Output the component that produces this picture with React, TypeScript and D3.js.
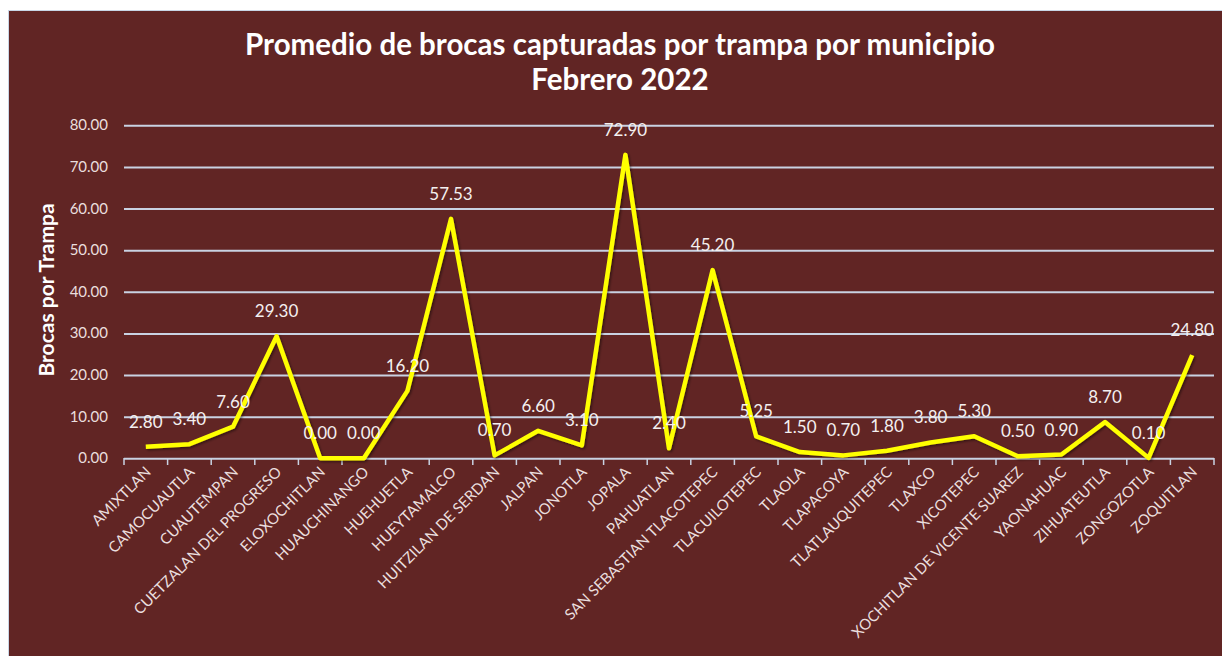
import * as d3 from "d3";
import { useEffect, useRef } from "react";

const municipios = [
    "AMIXTLAN", "CAMOCUAUTLA", "CUAUTEMPAN", "CUETZALAN DEL PROGRESO", "ELOXOCHITLAN",
    "HUAUCHINANGO", "HUEHUETLA", "HUEYTAMALCO", "HUITZILAN DE SERDAN", "JALPAN",
    "JONOTLA", "JOPALA", "PAHUATLAN", "SAN SEBASTIAN TLACOTEPEC", "TLACUILOTEPEC",
    "TLAOLA", "TLAPACOYA", "TLATLAUQUITEPEC", "TLAXCO", "XICOTEPEC",
    "XOCHITLAN DE VICENTE SUAREZ", "YAONAHUAC", "ZIHUATEUTLA", "ZONGOZOTLA", "ZOQUITLAN",
];
const promedio = [
    2.8, 3.4, 7.6, 29.3, 0.0, 0.0, 16.2, 57.53, 0.7, 6.6, 3.1, 72.9, 2.4, 45.2, 5.25,
    1.5, 0.7, 1.8, 3.8, 5.3, 0.5, 0.9, 8.7, 0.1, 24.8,
];
const yTicks = [0, 10, 20, 30, 40, 50, 60, 70, 80];
const titleLines = ["Promedio de brocas capturadas por trampa por municipio", "Febrero 2022"];

const W = 1222;
const H = 656;
const font = "Lato, 'Open Sans', sans-serif";

export default function App() {
    const svgRef = useRef<SVGSVGElement>(null);

    useEffect(() => {
        document.body.style.margin = "0";
        if (svgRef.current) drawChart();
    }, []);

    const drawChart = () => {
        const svg = d3.select(svgRef.current);
        svg.selectAll("*").remove();

        svg.append("rect").attr("width", W).attr("height", H).attr("fill", "#ffffff");
        svg.append("rect")
            .attr("x", 8.5).attr("y", 10.5)
            .attr("width", W).attr("height", H)
            .attr("fill", "#612524")
            .attr("stroke", "#c9d6e6");

        const defs = svg.append("defs");
        defs.append("filter").attr("id", "shadow")
            .append("feDropShadow")
            .attr("dx", 1.5).attr("dy", 1.5).attr("stdDeviation", 1.2)
            .attr("flood-color", "#000").attr("flood-opacity", 0.45);

        // Title
        svg.append("g").selectAll("text")
            .data(titleLines)
            .join("text")
            .attr("x", 620)
            .attr("y", (d, i) => 55 + i * 35)
            .attr("text-anchor", "middle")
            .attr("fill", "#ffffff")
            .attr("font-family", font)
            .attr("font-weight", "bold")
            .attr("font-size", 29.5)
            .text((d) => d);

        const scaleX = d3.scaleBand().domain(municipios).range([124, 1214]);
        const scaleY = d3.scaleLinear().domain([0, 80]).range([458.3, 125.3]);

        // Grid lines
        svg.append("g")
            .attr("transform", "translate(124,0)")
            .attr("color", "#c9d2e2")
            .call(d3.axisLeft(scaleY).tickValues(yTicks).tickSize(-1090).tickFormat(() => ""))
            .call((g) => g.select(".domain").remove())
            .selectAll("line").attr("stroke-width", 2);

        // Y tick labels
        svg.append("g").selectAll("text")
            .data(yTicks)
            .join("text")
            .attr("x", 108)
            .attr("y", (d) => scaleY(d) + 5)
            .attr("text-anchor", "end")
            .attr("fill", "#eadede")
            .attr("font-family", font)
            .attr("font-size", 15)
            .text((d) => d.toFixed(2));

        // X axis ticks at band edges
        const edges = d3.range(municipios.length + 1).map((i) => 124 + i * scaleX.bandwidth());
        svg.append("g").selectAll("line")
            .data(edges)
            .join("line")
            .attr("x1", (d) => d).attr("x2", (d) => d)
            .attr("y1", 458).attr("y2", 465)
            .attr("stroke", "#c9d2e2").attr("stroke-width", 1.5);

        // X labels
        svg.append("g").selectAll("text")
            .data(municipios)
            .join("text")
            .attr("transform", (d) => `translate(${scaleX(d)! + scaleX.bandwidth() / 2 + 6},${473}) rotate(-45)`)
            .attr("text-anchor", "end")
            .attr("fill", "#eadede")
            .attr("font-family", font)
            .attr("font-size", 15)
            .text((d) => d);

        // Y axis title
        svg.append("text")
            .attr("transform", "translate(54,290) rotate(-90)")
            .attr("text-anchor", "middle")
            .attr("fill", "#ffffff")
            .attr("font-family", font)
            .attr("font-weight", "bold")
            .attr("font-size", 21)
            .text("Brocas por Trampa");

        const cx = (i: number) => scaleX(municipios[i])! + scaleX.bandwidth() / 2;

        // Line
        svg.append("path")
            .datum(promedio)
            .attr("fill", "none")
            .attr("stroke", "#ffff00")
            .attr("stroke-width", 4.5)
            .attr("stroke-linejoin", "round")
            .attr("filter", "url(#shadow)")
            .attr("d", d3.line<number>().x((d, i) => cx(i)).y((d) => scaleY(d)));

        // Data labels
        svg.append("g").selectAll("text")
            .data(promedio)
            .join("text")
            .attr("x", (d, i) => cx(i))
            .attr("y", (d) => scaleY(d) - 19)
            .attr("text-anchor", "middle")
            .attr("fill", "#f4f0f0")
            .attr("font-family", font)
            .attr("font-size", 17)
            .text((d) => d.toFixed(2));
    };

    return <svg ref={svgRef} width={W} height={H} style={{ display: "block" }} />;
}
